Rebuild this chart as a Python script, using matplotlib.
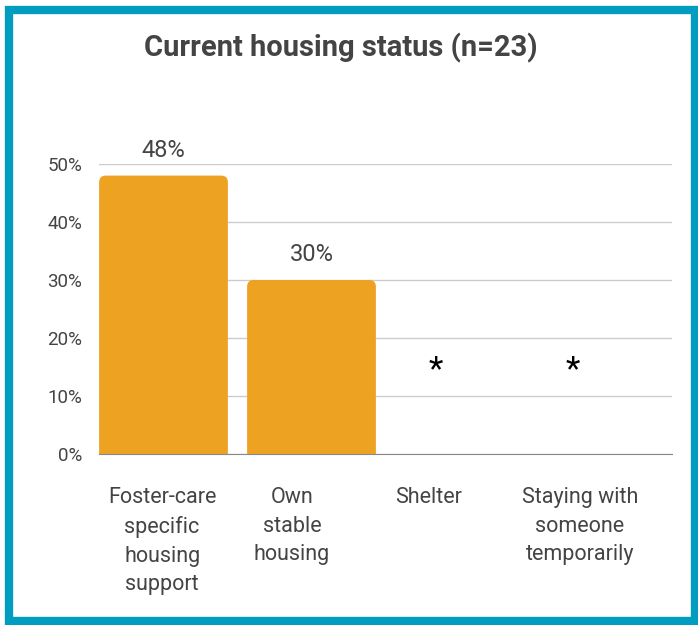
import numpy as np
import matplotlib.pyplot as plt
from matplotlib.patches import Rectangle, FancyBboxPatch
from matplotlib.transforms import ScaledTranslation

categories = ["Foster-care\nspecific\nhousing\nsupport", "Own\nstable\nhousing",
              "Shelter", "Staying with\nsomeone\ntemporarily"]
values = [0.48, 0.30, np.nan, np.nan]
bar_labels = ["48%", "30%", "*", "*"]
suppressed_y = 0.145  # where the "*" markers sit for suppressed values
yticks = [0, 0.1, 0.2, 0.3, 0.4, 0.5]

plt.rcParams['font.family'] = ['Roboto', 'DejaVu Sans']
text_color = "#444444"
bar_color = "#EEA222"
# horizontal nudges (points) for category labels / markers, as in the original
label_shift = [-1, -14, -22, -20]
marker_shift = [0, 0, -17, -25]

fig = plt.figure(figsize=(6.98, 6.25), dpi=100)
ax = fig.add_axes([0.1418, 0.2736, 0.821, 0.464])
ax.set_xlim(-0.436, 3.436)
ax.set_ylim(0, 0.5)

x = np.arange(len(categories))
heights = np.nan_to_num(values)
bars = ax.bar(x, heights, width=0.87, color=bar_color, zorder=3)

# swap plain bars for ones with rounded top corners
aspect = (0.5 / 290) / (3.872 / 573)
for b in bars:
    if b.get_height() <= 0:
        continue
    rb = FancyBboxPatch((b.get_x(), -0.05), b.get_width(), b.get_height() + 0.05,
                        boxstyle="round,pad=0,rounding_size=0.045",
                        mutation_aspect=aspect, facecolor=bar_color,
                        edgecolor="none", zorder=3)
    ax.add_patch(rb)
    b.set_visible(False)

for xi, v, lab, dx in zip(x, values, bar_labels, marker_shift):
    if np.isnan(v):
        t = ax.text(xi, suppressed_y, lab, ha="center", va="center",
                    fontsize=24, color="black")
        t.set_transform(t.get_transform() + ScaledTranslation(dx / 72, 0, fig.dpi_scale_trans))
    else:
        ax.annotate(lab, (xi, v), xytext=(0, 10), textcoords="offset points",
                    ha="center", va="bottom", fontsize=17, color=text_color,
                    annotation_clip=False)

ax.set_yticks(yticks)
ax.set_yticklabels([f"{int(t*100)}%" for t in yticks])
ax.set_xticks(x)
ax.set_xticklabels(categories, linespacing=1.47)

ax.tick_params(axis="y", length=0, pad=12, labelsize=13.5, labelcolor=text_color)
ax.tick_params(axis="x", length=0, pad=24, labelsize=15.5, labelcolor=text_color)
for lab, dx in zip(ax.get_xticklabels(), label_shift):
    lab.set_verticalalignment("top")
    lab.set_transform(lab.get_transform() + ScaledTranslation(dx / 72, 0, fig.dpi_scale_trans))

ax.grid(axis="y", color="#cccccc", linewidth=1, zorder=0)
for side in ["top", "right", "left"]:
    ax.spines[side].set_visible(False)
ax.spines["bottom"].set_color("#888888")
ax.spines["bottom"].set_zorder(4)

fig.text(0.488, 0.923, "Current housing status (n=23)", ha="center", va="center",
         fontsize=21, fontweight="bold", color=text_color)

fig.patches.append(Rectangle((0.0129, 0.0064), 0.9828, 0.978,
                             transform=fig.transFigure, fill=False,
                             edgecolor="#009DC0", linewidth=6))

fig.savefig("out.png", dpi=100)
